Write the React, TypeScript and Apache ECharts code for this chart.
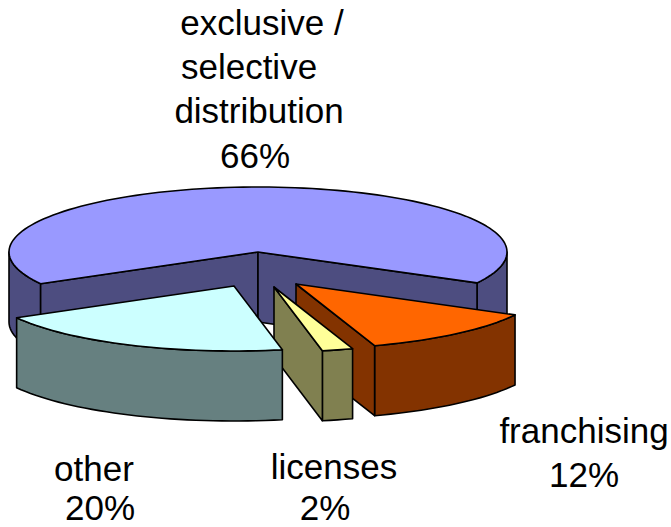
import React, { useEffect, useRef } from "react";
import * as echarts from "echarts";

// Market shares by contract type, in drawing order (back to front).
const categories = ["exclusive / selective distribution", "franchising", "licenses", "other"];
const shares = [66, 12, 2, 20];

const topColors = ["#9999FF", "#FF6600", "#FFFF99", "#CCFFFF"];
const sideColors = ["#4D4D80", "#833300", "#808050", "#668080"];

// Pie geometry on the page.
const CENTER_X = 258;
const CENTER_Y = 252;
const RADIUS_X = 249;
const RADIUS_Y = 65;
const DEPTH = 70;
const FIRST_ANGLE = 150.8;
const explodeX = [0, 38, 16, -24];
const explodeY = [0, 32, 35, 34];

// One text element per line, so that each line can sit at its own centre.
const labelLines: [string, number, number][][] = [
  [["exclusive /", 262, 22], ["selective", 249, 66], ["distribution", 259, 110], ["66%", 255, 155]],
  [["franchising", 584, 430], ["12%", 584, 474]],
  [["licenses", 334, 466], ["2%", 325, 507]],
  [["other", 94, 468], ["20%", 100, 507]],
];

const FONT_SIZE = 35;
const total = shares.reduce((a, b) => a + b, 0);

type Pt = [number, number];

function point(cx: number, cy: number, deg: number): Pt {
  const r = (deg * Math.PI) / 180;
  return [cx + RADIUS_X * Math.cos(r), cy + RADIUS_Y * Math.sin(r)];
}

function arc(cx: number, cy: number, from: number, to: number): Pt[] {
  const steps = Math.max(2, Math.ceil((to - from) / 2));
  const pts: Pt[] = [];
  for (let i = 0; i <= steps; i++) pts.push(point(cx, cy, from + ((to - from) * i) / steps));
  return pts;
}

function renderSlice(params: any, api: any) {
  const i = params.dataIndex;
  const value = api.value(1) as number;
  const before = shares.slice(0, i).reduce((a, b) => a + b, 0);
  const start = FIRST_ANGLE + (before / total) * 360;
  const end = start + (value / total) * 360;
  const cx = CENTER_X + explodeX[i];
  const cy = CENTER_Y + explodeY[i];
  const apex: Pt = [cx, cy];
  const down = (p: Pt): Pt => [p[0], p[1] + DEPTH];
  const stroke = { stroke: "#000", lineWidth: 1.6, lineJoin: "round" };
  const children: any[] = [];
  const side = (points: Pt[]) =>
    children.push({ type: "polygon", shape: { points }, style: { fill: sideColors[i], ...stroke } });
  const cutFace = (edge: Pt) => side([apex, edge, down(edge), down(apex)]);

  // Outer wall: only the stretches that lie in the front half of the rim.
  for (let turn = 0; turn <= 1; turn++) {
    const a = Math.max(start, turn * 360);
    const b = Math.min(end, 180 + turn * 360);
    if (b > a) {
      const rim = arc(cx, cy, a, b);
      side([...rim, ...rim.slice().reverse().map(down)]);
    }
  }
  // Cut faces that turn towards the viewer; the wide slice shows both of its own.
  if (i === 0) {
    cutFace(point(cx, cy, start));
    cutFace(point(cx, cy, end));
  } else if (Math.sin((end * Math.PI) / 180) > 0 && Math.cos((end * Math.PI) / 180) > 0) {
    cutFace(point(cx, cy, end));
  }
  // Top face.
  children.push({
    type: "polygon",
    shape: { points: [apex, ...arc(cx, cy, start, end)] },
    style: { fill: topColors[i], ...stroke },
  });
  // Labels.
  for (const [text, x, y] of labelLines[i]) {
    children.push({
      type: "text",
      x,
      y,
      style: {
        text,
        fill: "#000",
        font: `${FONT_SIZE}px "Liberation Sans", Arial, sans-serif`,
        textAlign: "center",
        textVerticalAlign: "middle",
      },
    });
  }
  return { type: "group", children };
}

export default function App() {
  const ref = useRef<HTMLDivElement>(null);
  useEffect(() => {
    const chart = echarts.init(ref.current!, undefined, { renderer: "svg" });
    chart.setOption({
      animation: false,
      backgroundColor: "#fff",
      series: [
        {
          type: "custom",
          coordinateSystem: "none",
          renderItem: renderSlice,
          data: categories.map((name, i) => ({ name, value: [i, shares[i]] })),
        },
      ],
    });
    return () => chart.dispose();
  }, []);
  return <div ref={ref} style={{ position: "fixed", left: 0, top: 0, width: 671, height: 527 }} />;
}
